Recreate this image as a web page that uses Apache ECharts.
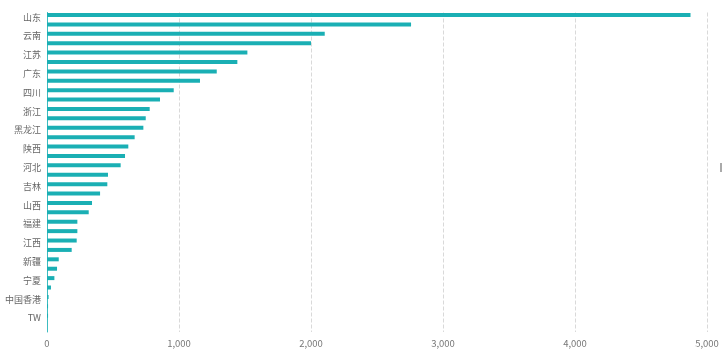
<!DOCTYPE html>
<html>
<head>
<meta charset="utf-8">
<script src="https://cdn.jsdelivr.net/npm/echarts@6/dist/echarts.min.js"></script>
<style>
  html, body { margin: 0; padding: 0; background: #fff; }
  #main { width: 722px; height: 355px; }
</style>
</head>
<body>
<div id="main"></div>
<script>
// 省份（从上到下）
var provinces = ['山东', '河南', '云南', '湖北', '江苏', '湖南', '广东', '安徽', '四川', '辽宁',
  '浙江', '广西', '黑龙江', '贵州', '陕西', '内蒙古', '河北', '重庆', '吉林', '甘肃',
  '山西', '北京', '福建', '上海', '江西', '天津', '新疆', '海南', '宁夏', '青海',
  '中国香港', '西藏', 'TW', '中国澳门'];
// 数量
var counts = [4875, 2758, 2104, 2000, 1518, 1442, 1286, 1159, 960, 856,
  778, 748, 730, 664, 616, 591, 558, 462, 457, 402,
  341, 316, 230, 230, 225, 187, 89, 76, 56, 30,
  12, 8, 8, 0];
var xTicks = [0, 1000, 2000, 3000, 4000, 5000];

var myChart = echarts.init(document.getElementById('main'));
var option = {
  animation: false,
  grid: { left: 47, right: 15, top: 12.5, bottom: 23, containLabel: false },
  xAxis: {
    type: 'value',
    min: xTicks[0],
    max: xTicks[xTicks.length - 1],
    interval: 1000,
    axisLine: { show: false },
    axisTick: { show: false },
    axisLabel: {
      color: '#777',
      fontSize: 9.5,
      fontFamily: 'Noto Sans CJK SC',
      margin: 7,
      formatter: function (v) { return echarts.format.addCommas(v); }
    },
    splitLine: { show: true, lineStyle: { color: '#d9d9d9', type: 'dashed' } }
  },
  yAxis: {
    type: 'category',
    inverse: true,
    data: provinces,
    axisLine: { show: true, lineStyle: { color: '#3cbcc0', width: 1 } },
    axisTick: { show: false },
    axisLabel: {
      interval: 1,
      color: '#666',
      fontSize: 9,
      fontFamily: 'Noto Sans CJK SC',
      margin: 6
    }
  },
  series: [
    {
      type: 'bar',
      data: counts,
      barWidth: 4,
      itemStyle: { color: '#1aafb4' }
    },
    {
      type: 'bar',
      data: [],
      barWidth: 4
    }
  ],
  graphic: [
    { type: 'rect', left: 720, top: 163, shape: { width: 2, height: 9 }, style: { fill: '#aaa' } }
  ]
};
myChart.setOption(option);
</script>
</body>
</html>
